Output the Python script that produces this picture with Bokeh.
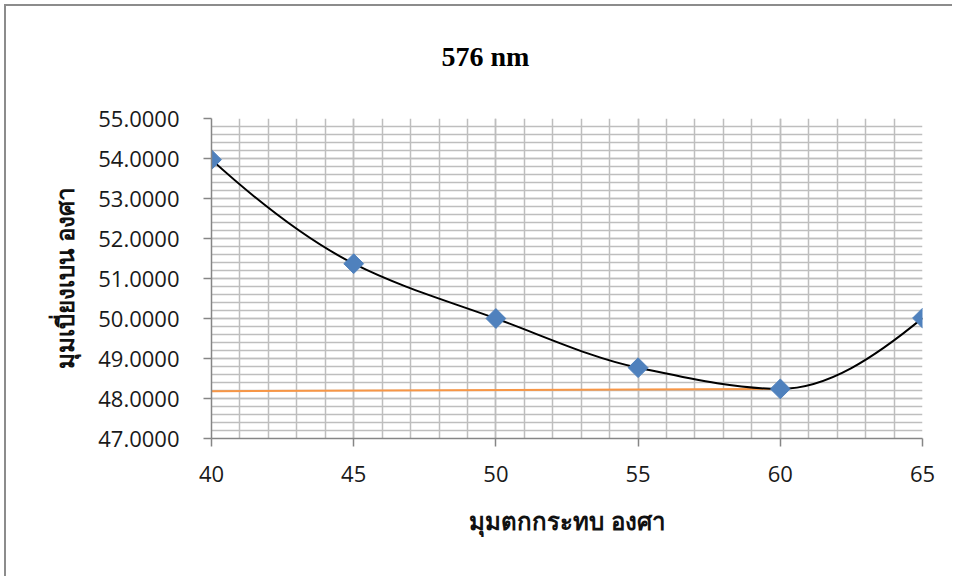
import numpy as np
from bokeh.plotting import figure
from bokeh.models import (FixedTicker, Range1d, LinearAxis, ColumnDataSource,
                          CustomJSTickFormatter)
from bokeh.embed import file_html
from bokeh.resources import INLINE

# ---- data ----
incidence = [40, 45, 50, 55, 60, 65]
deviation = [53.97, 51.37, 50.00, 48.77, 48.24, 50.01]
orange_x = [40, 60]
orange_y = [48.18, 48.24]
x_ticks = [40, 45, 50, 55, 60, 65]
y_ticks = [47, 48, 49, 50, 51, 52, 53, 54, 55]
title_text = "576 nm"
x_label = "มุมตกกระทบ องศา"
y_label = "มุมเบี่ยงเบน องศา"

W, H = 948, 572
p = figure(width=W, height=H, output_backend="svg", toolbar_location=None,
           x_range=Range1d(40, 65), y_range=Range1d(47, 55),
           min_border_left=205, min_border_right=32, min_border_top=112, min_border_bottom=140)
p.outline_line_color = None
p.background_fill_color = "white"
p.border_fill_color = "white"
p.styles = {"border-top": "2px solid #8c8c8c", "border-left": "2px solid #8c8c8c",
            "margin-top": "4px", "margin-left": "4px"}

# tickers with minor ticks (grid spacing)
x_minor = list(np.arange(40, 65.01, 1.0))
y_minor = list(np.round(np.arange(47, 55.001, 0.2), 2))
p.xaxis.ticker = FixedTicker(ticks=x_ticks, minor_ticks=x_minor)
p.yaxis.ticker = FixedTicker(ticks=y_ticks, minor_ticks=y_minor)

grid_col = "#bebebe"
for g in (p.xgrid, p.ygrid):
    g.grid_line_color = grid_col
    g.grid_line_width = 1.5
    g.minor_grid_line_color = grid_col
    g.minor_grid_line_width = 1.5

for ax in (p.xaxis, p.yaxis):
    ax.axis_line_color = "#868686"
    ax.axis_line_width = 1.5
    ax.major_tick_line_color = "#868686"
    ax.major_tick_line_width = 1.5
    ax.major_tick_out = 8
    ax.major_tick_in = 0
    ax.minor_tick_line_color = None
    ax.major_label_text_font = "Open Sans"
    ax.major_label_text_font_size = "22px"
    ax.major_label_text_color = "#1a1a1a"
    ax.axis_label_text_font = "Noto Sans"
    ax.axis_label_text_font_style = "bold"
    ax.axis_label_text_font_size = "24px"
    ax.axis_label_text_color = "#111111"

p.yaxis.formatter = CustomJSTickFormatter(code="return tick.toFixed(4);")
p.yaxis.major_label_standoff = 24
p.xaxis.major_label_standoff = 19
p.xaxis.axis_label = x_label
p.yaxis.axis_label = y_label
p.xaxis.axis_label_standoff = 19
p.yaxis.axis_label_standoff = 14

# orange line
p.line(orange_x, orange_y, line_color="#F79646", line_width=2)

# smoothed curve: monotone cubic Hermite through the data, drawn as Bezier segments
xs = np.array(incidence, dtype=float)
ys = np.array(deviation, dtype=float)
h = np.diff(xs)
d = np.diff(ys) / h
n = len(xs)
m = np.zeros(n)
for i in range(1, n - 1):
    if d[i - 1] * d[i] <= 0:
        m[i] = 0.0
    else:
        w1 = 2 * h[i] + h[i - 1]
        w2 = h[i] + 2 * h[i - 1]
        m[i] = (w1 + w2) / (w1 / d[i - 1] + w2 / d[i])
m[0] = ((2 * h[0] + h[1]) * d[0] - h[0] * d[1]) / (h[0] + h[1])
m[-1] = ((2 * h[-1] + h[-2]) * d[-1] - h[-1] * d[-2]) / (h[-1] + h[-2])
src = dict(x0=xs[:-1], y0=ys[:-1], x1=xs[1:], y1=ys[1:],
           cx0=xs[:-1] + h / 3, cy0=ys[:-1] + m[:-1] * h / 3,
           cx1=xs[1:] - h / 3, cy1=ys[1:] - m[1:] * h / 3)
p.bezier(x0="x0", y0="y0", x1="x1", y1="y1", cx0="cx0", cy0="cy0", cx1="cx1", cy1="cy1",
         source=ColumnDataSource(src), line_color="black", line_width=2)

# diamond markers
p.scatter(incidence, deviation, marker="square", angle=np.pi / 4, size=14,
          fill_color="#4F81BD", line_color="#4F81BD")

# chart title, drawn as the single label of an invisible top axis (centred over the whole chart)
title_axis = LinearAxis(ticker=FixedTicker(ticks=[49.63], minor_ticks=[]),
                        formatter=CustomJSTickFormatter(code="return %r;" % title_text),
                        axis_line_color=None, major_tick_line_color=None,
                        minor_tick_line_color=None, major_tick_out=0, major_tick_in=0,
                        major_label_standoff=47,
                        major_label_text_font="Liberation Serif",
                        major_label_text_font_style="bold",
                        major_label_text_font_size="28px",
                        major_label_text_color="black")
p.add_layout(title_axis, "above")

open("out.html", "w").write(file_html(p, INLINE))
